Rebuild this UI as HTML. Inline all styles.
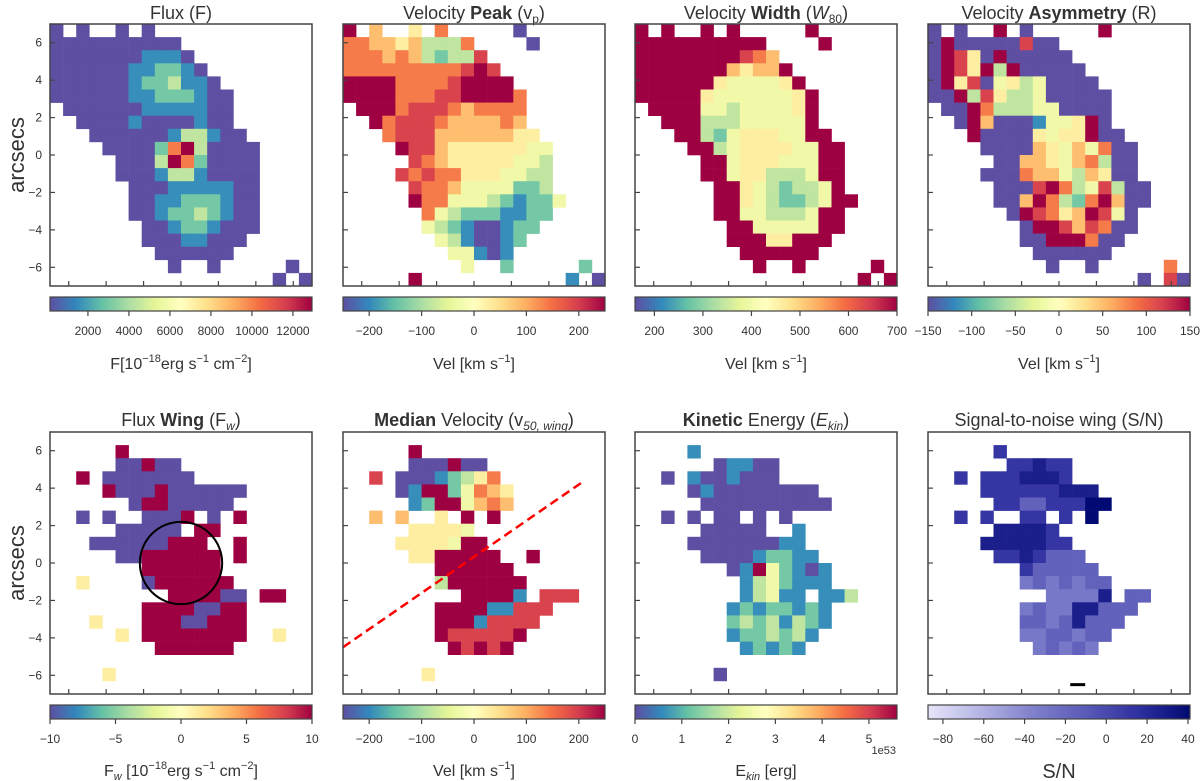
<!DOCTYPE html>
<html><head><meta charset="utf-8"><style>
html,body{margin:0;padding:0;background:#fff;}
svg{display:block;font-family:"Liberation Sans","DejaVu Sans",sans-serif;}
</style></head><body>
<svg id="fig" width="1200" height="781" viewBox="0 0 1200 781" xmlns="http://www.w3.org/2000/svg">
<g fill="#333" font-size="18" text-anchor="middle">
<text x="181" y="19">Flux (F)</text>
<text x="474" y="19">Velocity <tspan font-weight="bold">Peak</tspan> (v<tspan font-size="12" dy="4">p</tspan><tspan dy="-4">)</tspan></text>
<text x="766" y="19">Velocity <tspan font-weight="bold">Width</tspan> (<tspan font-style="italic">W</tspan><tspan font-size="12" dy="4">80</tspan><tspan dy="-4">)</tspan></text>
<text x="1059" y="19">Velocity <tspan font-weight="bold">Asymmetry</tspan> (R)</text>
<text x="181" y="426">Flux <tspan font-weight="bold">Wing</tspan> (F<tspan font-size="12" dy="4" font-style="italic">w</tspan><tspan dy="-4">)</tspan></text>
<text x="474" y="426"><tspan font-weight="bold">Median</tspan> Velocity (v<tspan font-size="12" dy="4" font-style="italic">50, wing</tspan><tspan dy="-4">)</tspan></text>
<text x="766" y="426"><tspan font-weight="bold">Kinetic</tspan> Energy (<tspan font-style="italic">E</tspan><tspan font-size="12" dy="4" font-style="italic">kin</tspan><tspan dy="-4">)</tspan></text>
<text x="1059" y="426">Signal-to-noise wing (S/N)</text>
</g>
<g fill="#333" font-size="16" text-anchor="middle">
<text x="181" y="369">F[10<tspan font-size="11" dy="-7">−18</tspan><tspan dy="7">erg s</tspan><tspan font-size="11" dy="-7">−1</tspan><tspan dy="7"> cm</tspan><tspan font-size="11" dy="-7">−2</tspan><tspan dy="7">]</tspan></text>
<text x="474" y="369">Vel [km s<tspan font-size="11" dy="-7">−1</tspan><tspan dy="7">]</tspan></text>
<text x="766" y="369">Vel [km s<tspan font-size="11" dy="-7">−1</tspan><tspan dy="7">]</tspan></text>
<text x="1059" y="369">Vel [km s<tspan font-size="11" dy="-7">−1</tspan><tspan dy="7">]</tspan></text>
<text x="181" y="776">F<tspan font-size="11" dy="4" font-style="italic">w</tspan><tspan dy="-4"> [10</tspan><tspan font-size="11" dy="-7">−18</tspan><tspan dy="7">erg s</tspan><tspan font-size="11" dy="-7">−1</tspan><tspan dy="7"> cm</tspan><tspan font-size="11" dy="-7">−2</tspan><tspan dy="7">]</tspan></text>
<text x="474" y="776">Vel [km s<tspan font-size="11" dy="-7">−1</tspan><tspan dy="7">]</tspan></text>
<text x="766" y="776">E<tspan font-size="11" dy="4" font-style="italic">kin</tspan><tspan dy="-4"> [erg]</tspan></text>
<text x="1059" y="778" font-size="20">S/N</text>
</g>
<text x="0" y="0" font-size="22" fill="#333" text-anchor="middle" transform="translate(24,155) rotate(-90)">arcsecs</text>
<text x="0" y="0" font-size="22" fill="#333" text-anchor="middle" transform="translate(24,563) rotate(-90)">arcsecs</text>
<text x="896" y="754" font-size="11" fill="#333" text-anchor="end">1e53</text>
<defs id="defs"></defs>
<g id="plots"></g>
</svg>
<script>
const spectral = ["#5e4fa2","#3288bd","#66c2a5","#abdda4","#e6f598","#ffffbf","#fee08b","#fdae61","#f46d43","#d53e4f","#9e0142"];
const purples = ["#e6e6fa","#b4b4e4","#8080cc","#5a5ab8","#3030a0","#000a72"];

const fluxGrid = [
"0.0..0.0............",
"0000000000..........",
"00000001110.........",
"000000112210........",
"0000001223110.......",
"00000011222100......",
".0000001111100......",
"..000010000100......",
"...000000133100.....",
"....000027930000....",
".....00039720000....",
".....00013310000....",
"......0001111100....",
"......0011222100....",
"......0012232100....",
".......001221000....",
".......00011000.....",
"........000000......",
".........0..0.....0.",
".................0.0"];
const velPeakGrid = [
"9.6..5.7.....0......",
"7766563337....0.....",
"77767632338.........",
"777777777898........",
"9999777789999.......",
"99997778899997......",
".9997888767777......",
"..978887666676......",
"...788866666655.....",
"....988655555544....",
".....87655555443....",
"....878775554433....",
".....87764444223....",
".....977444321224...",
"......7432221122....",
"......432100122.....",
".......4310012......",
"........44101.......",
".........4..2.....2.",
".....9...........1.0"];
const velWidthGrid = [
"9.9..9.9.....9......",
"9999999999....9.....",
"99999999876.........",
"999999965669........",
"9999995444459.......",
"99999544444459......",
".9999443444459......",
"..999333444449......",
"...993245554499.....",
"....993455554499....",
".....99455544499....",
".....99455333499....",
"......9954323349....",
"......99543223499...",
"......9944333499....",
".......994444499....",
".......99955999.....",
"........999999......",
".........9..9.....9.",
".................9.9"];
const velAsymGrid = [
"0.0..9.0.....9......",
"0900000800..........",
"09850900000.........",
"098593900000........",
"0958045340000.......",
"00938533400000......",
".0097333440000......",
"..096000144590......",
"...900005455900.....",
"....000065464700....",
".....00665467300....",
"....000766436500....",
".....000897348300...",
".....006973279600...",
"......0987569840....",
".......099868700....",
".......00999700.....",
"........000000......",
".........0..0.....7.",
"................0.80"];
const fluxWingGrid = [
"....................",
".....9..............",
".....00900..........",
"..9.0000000.........",
"....90009000000.....",
"......09900000......",
"..0.0..0009.0.9.....",
".....00000.99.......",
"...000000999..9.....",
".....00999999.9.....",
".......999999.......",
"..5....0999999......",
".........999900.99..",
".......99990099.....",
"...5...99900999.....",
".....5.99999999..5..",
"........999999......",
"....................",
"....5...............",
"...................."];
const medianVelGrid = [
"....................",
".....9..............",
".....000900.........",
"..8.00012357........",
"....019924765.......",
".....12994676.......",
"..6.6..5.9.9........",
".....55554..........",
"....5555499.........",
".....5599999..9.....",
".......999999.......",
".......3999999......",
".........99991.888..",
".......999911888....",
".......99918888.....",
".......9888889......",
"........98989.......",
"....................",
"......5.............",
"...................."];
const ekinGrid = [
"....................",
"....1...............",
"......01100.........",
"..0.1001000.........",
"....0100000000......",
".....0000000000.....",
"..0.0.00.0.0........",
".....00000..1.......",
"....000000011.......",
".....000012211......",
".......01942101.....",
"........1342111.....",
"........13411.113...",
".......12122121.....",
".......23231321.....",
".......1223231......",
"........12121.......",
"....................",
"......0.............",
"...................."];
const snGrid = [
"....................",
".....7..............",
"......77877.........",
"..7.7778887.........",
"....777777888.......",
".....775577799......",
"..7.7..77.7.9.......",
".....88887..........",
"....8888877.........",
".....7787555........",
".......755555.......",
".......4545455......",
".........44448.55...",
".......454488555....",
".......55458555.....",
".......4455455......",
"........45454.......",
"....................",
"....................",
"...................."];

const fluxTicks = [2000,4000,6000,8000,10000,12000];
const velTicks = [-200,-100,0,100,200];
const widthTicks = [200,300,400,500,600,700];
const asymTicks = [-150,-100,-50,0,50,100,150];
const wingTicks = [-10,-5,0,5,10];
const ekinTicks = [0,1,2,3,4,5];
const snTicks = [-80,-60,-40,-20,0,20,40];
const axisTicks = [-6,-4,-2,0,2,4,6];
const axisTickLabels = ["−6","−4","−2","0","2","4","6"];

const fluxRange = [150, 12930];
const velRange = [-250, 250];
const widthRange = [160, 700];
const asymRange = [-150, 150];
const wingRange = [-10, 10];
const ekinRange = [0, 5.6];
const snRange = [-87.3, 41];

const cutLine = [[-7,-4.5],[5.8,4.33]];
const wingCircle = {x:0, y:0, r:2.2};

const NS = "http://www.w3.org/2000/svg";
function mk(tag, attrs, parent){const e=document.createElementNS(NS,tag);for(const k in attrs)e.setAttribute(k,attrs[k]);if(parent)parent.appendChild(e);return e;}
function hex(h){return [parseInt(h.slice(1,3),16),parseInt(h.slice(3,5),16),parseInt(h.slice(5,7),16)];}
function cmap(stops,t){t=Math.max(0,Math.min(1,t));const n=stops.length-1;const i=Math.min(n-1,Math.floor(t*n));const f=t*n-i;const a=hex(stops[i]),b=hex(stops[i+1]);return "rgb("+a.map((v,k)=>Math.round(v+(b[k]-v)*f)).join(",")+")";}

const panels = [
 {id:"flux",left:50,top:24,grid:fluxGrid,range:fluxRange,ticks:fluxTicks,cm:spectral,ylab:true},
 {id:"vel-peak",left:343,top:24,grid:velPeakGrid,range:velRange,ticks:velTicks,cm:spectral},
 {id:"vel-width",left:635,top:24,grid:velWidthGrid,range:widthRange,ticks:widthTicks,cm:spectral},
 {id:"vel-asym",left:928,top:24,grid:velAsymGrid,range:asymRange,ticks:asymTicks,cm:spectral},
 {id:"flux-wing",left:50,top:432,grid:fluxWingGrid,range:wingRange,ticks:wingTicks,cm:spectral,ylab:true,circle:true},
 {id:"median-vel",left:343,top:432,grid:medianVelGrid,range:velRange,ticks:velTicks,cm:spectral,line:true},
 {id:"ekin",left:635,top:432,grid:ekinGrid,range:ekinRange,ticks:ekinTicks,cm:spectral},
 {id:"sn",left:928,top:432,grid:snGrid,range:snRange,ticks:snTicks,cm:purples,bar:true}
];
const S = 262, EXT = 7;
const root = document.getElementById("plots");
const defs = document.getElementById("defs");

panels.forEach((p,pi)=>{
  const xs = v => p.left + (v+EXT)/(2*EXT)*S;
  const ys = v => p.top + (EXT-v)/(2*EXT)*S;
  const g = mk("g",{},root);
  
  
  const n = p.grid.length, cw = 2*EXT/n;
  const [vmin,vmax] = p.range;
  p.grid.forEach((row,r)=>{
    for(let c=0;c<row.length;c++){
      const ch=row[c]; if(ch===".") continue;
      const val = vmin + (+ch)/9*(vmax-vmin);
      const x0=-EXT+c*cw, y0=EXT-r*cw;
      const rect = mk("rect",{x:xs(x0).toFixed(2),y:ys(y0).toFixed(2),width:(S/n+0.3).toFixed(2),height:(S/n+0.3).toFixed(2),fill:cmap(p.cm,(val-vmin)/(vmax-vmin))},g);
      
      
    }
  });
  if(p.circle){
    const ci = mk("circle",{cx:xs(wingCircle.x),cy:ys(wingCircle.y),r:wingCircle.r/(2*EXT)*S,fill:"none",stroke:"#000","stroke-width":2},g);
    
    
  }
  if(p.line){
    const ln = mk("line",{x1:xs(cutLine[0][0]),y1:ys(cutLine[0][1]),x2:xs(cutLine[1][0]),y2:ys(cutLine[1][1]),stroke:"#f00","stroke-width":2.5,"stroke-dasharray":"9,5"},g);
    
    
  }
  if(p.bar){
    const b = mk("line",{x1:xs(0.6),y1:ys(-6.5),x2:xs(1.4),y2:ys(-6.5),stroke:"#000","stroke-width":3},g);
    
    
  }
  const fr = mk("rect",{x:p.left,y:p.top,width:S,height:S,fill:"none",stroke:"#444","stroke-width":1.5},g);
  
  
  axisTicks.forEach((t,i)=>{
    const tx = mk("line",{x1:xs(t),x2:xs(t),y1:p.top+S,y2:p.top+S-5,stroke:"#444","stroke-width":1.2},g);
    
    
    const ty = mk("line",{x1:p.left,x2:p.left+5,y1:ys(t),y2:ys(t),stroke:"#444","stroke-width":1.2},g);
    
    
    if(p.ylab){
      const tl = mk("text",{x:p.left-8,y:ys(t)+4,"font-size":12,fill:"#333","text-anchor":"end"},g);
      tl.textContent = axisTickLabels[i];
      
      
    }
  });
  const cbY = p.top===24 ? 297 : 705;
  const gid = "grad"+pi;
  const lg = mk("linearGradient",{id:gid,x1:0,x2:1,y1:0,y2:0},defs);
  p.cm.forEach((c,i)=>mk("stop",{offset:i/(p.cm.length-1),"stop-color":c},lg));
  const cb = mk("rect",{x:p.left,y:cbY,width:S,height:14,fill:"url(#"+gid+")",stroke:"#444","stroke-width":1.2},g);
  
  
  const cs = v => p.left + (v-vmin)/(vmax-vmin)*S;
  p.ticks.forEach(t=>{
    const x = cs(t);
    const tk = mk("line",{x1:x,x2:x,y1:cbY+14,y2:cbY+19,stroke:"#444","stroke-width":1.2},g);
    
    
    const tl = mk("text",{x:x,y:cbY+38,"font-size":12,fill:"#333","text-anchor":"middle"},g);
    tl.textContent = String(t).replace("-","−");
    
    
  });
});
</script>
</body></html>
